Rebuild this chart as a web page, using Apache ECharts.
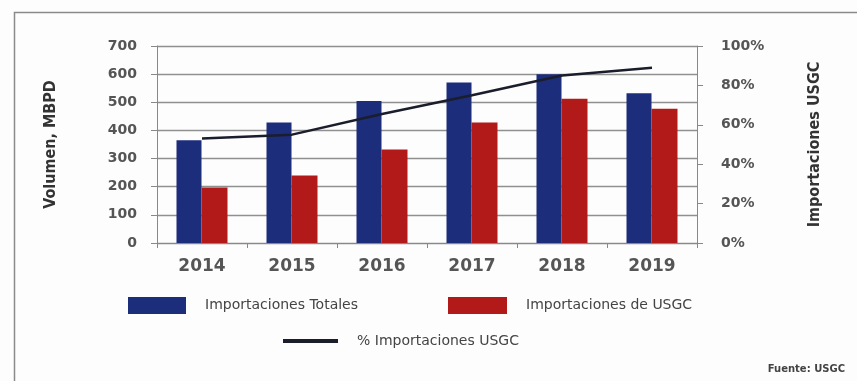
<!DOCTYPE html>
<html>
<head>
<meta charset="utf-8">
<script src="https://cdn.jsdelivr.net/npm/echarts@6/dist/echarts.min.js"></script>
<style>html,body{margin:0;padding:0;background:#fdfdfd;}#c{width:857px;height:381px;}</style>
</head>
<body>
<div id="c"></div>
<script>
var years = ['2014', '2015', '2016', '2017', '2018', '2019'];
var totalImports = [365, 428, 505, 570, 600, 532];
var usgcImports = [197, 240, 332, 428, 513, 477];
var usgcShare = [53, 55, 65.5, 75, 85, 89];
var leftTicks = [0, 700, 100];
var rightTicks = [0, 100, 20];

var chart = echarts.init(document.getElementById('c'));
var labelFont = 'DejaVu Sans';
var nameFont = 'DejaVu Sans Condensed';
var legendText = { fontFamily: labelFont, fontSize: 14, color: '#444', padding: [0, 0, 0, 14] };
chart.setOption({
  backgroundColor: '#fdfdfd',
  animation: false,
  grid: { left: 157, right: 160, top: 46, bottom: 138 },
  legend: [
    { left: 128, top: 297, padding: 0, itemWidth: 58, itemHeight: 17, icon: 'rect',
      data: ['Importaciones Totales'], textStyle: legendText },
    { left: 448, top: 297, padding: 0, itemWidth: 59, itemHeight: 17, icon: 'rect',
      data: ['Importaciones de USGC'], textStyle: legendText },
    { left: 283, top: 334, padding: 0, itemWidth: 55, itemHeight: 4, icon: 'rect',
      data: ['% Importaciones USGC'], textStyle: legendText }
  ],
  xAxis: {
    type: 'category', data: years,
    axisLine: { lineStyle: { color: '#888', width: 1 } },
    axisTick: { show: true, length: 5, lineStyle: { color: '#888' } },
    axisLabel: { fontFamily: labelFont, fontWeight: 'bold', fontSize: 17, color: '#555', margin: 15 }
  },
  yAxis: [
    {
      type: 'value', min: leftTicks[0], max: leftTicks[1], interval: leftTicks[2],
      name: 'Volumen, MBPD', nameLocation: 'middle', nameRotate: 90, nameGap: 98,
      nameTextStyle: { fontFamily: nameFont, fontWeight: 'bold', fontSize: 16, color: '#333' },
      axisLine: { show: true, lineStyle: { color: '#888' } },
      axisTick: { show: true, length: 6, lineStyle: { color: '#888' } },
      axisLabel: { fontFamily: labelFont, fontWeight: 'bold', fontSize: 14, color: '#555', margin: 20 },
      splitLine: { show: true, lineStyle: { color: '#909090', width: 1.3 } }
    },
    {
      type: 'value', min: rightTicks[0], max: rightTicks[1], interval: rightTicks[2],
      name: 'Importaciones USGC', nameLocation: 'middle', nameRotate: 90, nameGap: 110,
      nameTextStyle: { fontFamily: nameFont, fontWeight: 'bold', fontSize: 16, color: '#333' },
      axisLine: { show: true, lineStyle: { color: '#888' } },
      axisTick: { show: true, length: 6, lineStyle: { color: '#888' } },
      axisLabel: { fontFamily: labelFont, fontWeight: 'bold', fontSize: 14, color: '#555', margin: 24, formatter: '{value}%' },
      splitLine: { show: false }
    }
  ],
  series: [
    { name: 'Importaciones Totales', type: 'bar', data: totalImports, barWidth: 25, barGap: '0%',
      itemStyle: { color: '#1c2d7c' } },
    { name: 'Importaciones de USGC', type: 'bar', data: usgcImports, barWidth: 26, barGap: '0%',
      itemStyle: { color: '#b21a1a' } },
    { name: '% Importaciones USGC', type: 'line', yAxisIndex: 1, data: usgcShare, showSymbol: false,
      symbol: 'none', lineStyle: { color: '#1a1d2b', width: 2.5 }, itemStyle: { color: '#1a1d2b' } }
  ],
  graphic: [
    { type: 'rect', left: 12, top: 10, silent: true, z: -1,
      shape: { width: 860, height: 390 }, style: { fill: 'none', stroke: '#8a8a8a', lineWidth: 1.5 } },
    { type: 'text', right: 12, top: 364,
      style: { text: 'Fuente: USGC', fontFamily: labelFont, fontWeight: 'bold', fontSize: 10, fill: '#444' } }
  ]
});
</script>
</body>
</html>
